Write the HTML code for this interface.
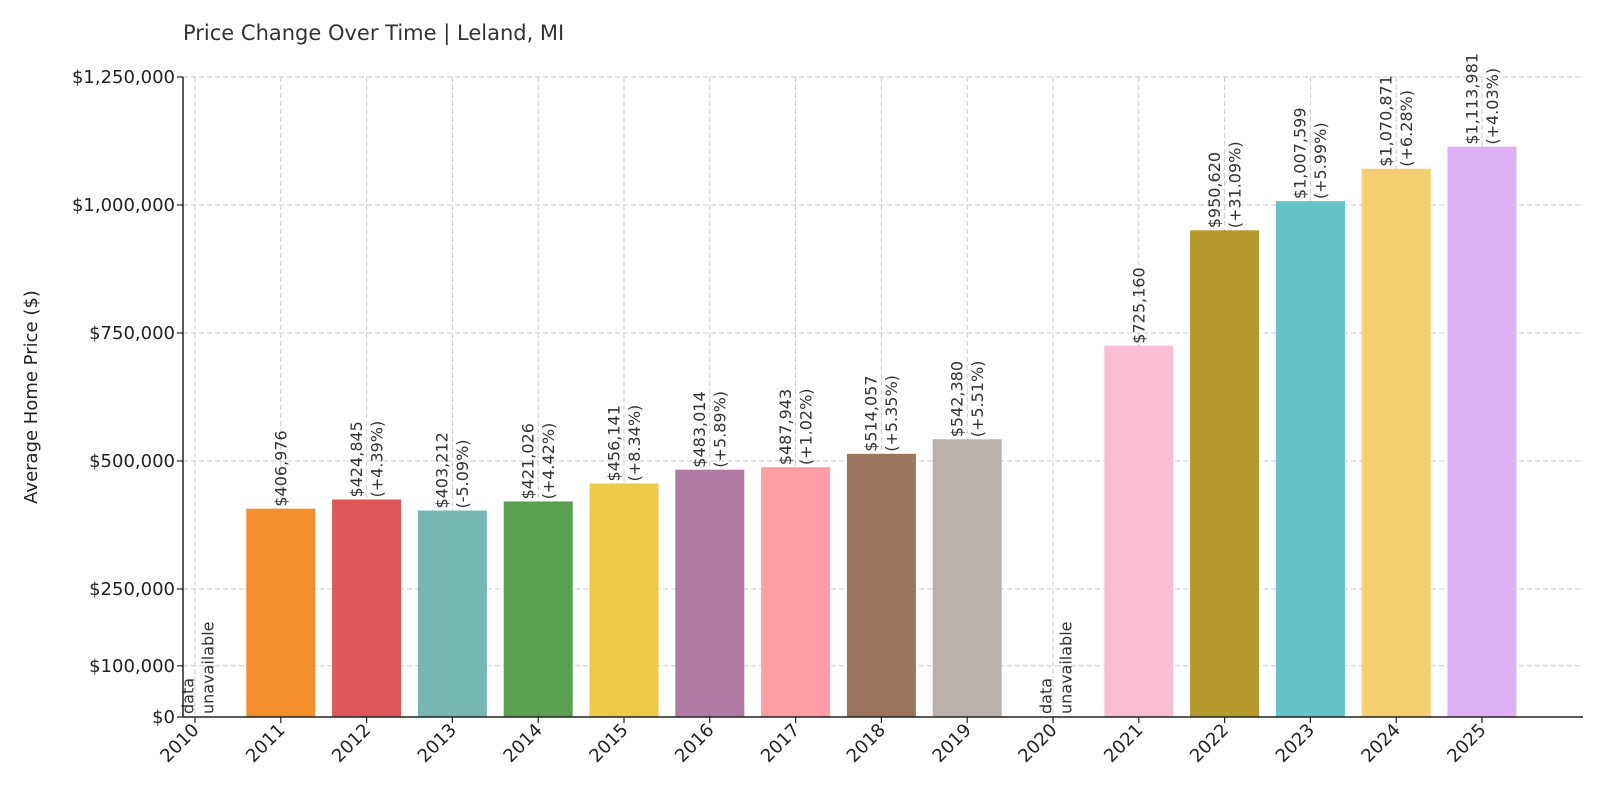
<!DOCTYPE html>
<html><head><meta charset="utf-8"><style>
body{margin:0;background:#fff;}
svg{display:block;font-family:"DejaVu Sans","Liberation Sans",sans-serif;}
</style></head><body>
<svg id="chart" width="1600" height="800">
<text x="183" y="40" font-size="21" fill="#333">Price Change Over Time | Leland, MI</text>
<text transform="translate(37,397) rotate(-90)" text-anchor="middle" font-size="18" fill="#222">Average Home Price ($)</text>
<g id="grid"></g><g id="bars"></g><g id="labels"></g><g id="axes"></g>
</svg>
<script>
const years = ["2010","2011","2012","2013","2014","2015","2016","2017","2018","2019","2020","2021","2022","2023","2024","2025"];
const prices = [null,406976,424845,403212,421026,456141,483014,487943,514057,542380,null,725160,950620,1007599,1070871,1113981];
const changes = [null,null,"+4.39%","-5.09%","+4.42%","+8.34%","+5.89%","+1.02%","+5.35%","+5.51%",null,null,"+31.09%","+5.99%","+6.28%","+4.03%"];
const colors = [null,"#f28e2b","#e15759","#76b7b2","#59a14f","#edc948","#b07aa1","#ff9da7","#9c755f","#bab0ac",null,"#f9bed4","#b5992c","#64c3c9","#f5cf6e","#dcb0f2"];
const yTicks = [0,100000,250000,500000,750000,1000000,1250000];
const yTickLabels = ["$0","$100,000","$250,000","$500,000","$750,000","$1,000,000","$1,250,000"];

const NS="http://www.w3.org/2000/svg";
const L=183,R=1583,Y0=717,YT=77,YMAX=1250000;
const x0=195,step=85.8,bw=69;
function xs(i){return x0+i*step;}
function ys(v){return Y0-(v/YMAX)*(Y0-YT);}
function mk(tag,attrs,parent){const e=document.createElementNS(NS,tag);for(const k in attrs)e.setAttribute(k,attrs[k]);parent.appendChild(e);return e;}
const grid=document.getElementById('grid'),bars=document.getElementById('bars'),labels=document.getElementById('labels'),axes=document.getElementById('axes');

yTicks.forEach((v,i)=>{
  const y=ys(v);
  if(v>0){const g=mk('line',{x1:L,x2:R,y1:y,y2:y,stroke:'#ccc','stroke-dasharray':'5,3','stroke-width':1},grid);
  
  }
  const t=mk('line',{x1:L-6,x2:L,y1:y,y2:y,stroke:'#222','stroke-width':1.2},axes);
  
  
  const tx=mk('text',{x:L-8,y:y+6,'text-anchor':'end','font-size':18,fill:'#222'},axes);
  tx.textContent=yTickLabels[i];
  
  
});
years.forEach((yr,i)=>{
  const x=xs(i);
  const g=mk('line',{x1:x,x2:x,y1:YT,y2:Y0,stroke:'#ccc','stroke-dasharray':'5,3','stroke-width':1},grid);
  
  
  if(prices[i]!=null){
    const y=ys(prices[i]);
    const b=mk('rect',{x:x-bw/2,y:y,width:bw,height:Y0-y,fill:colors[i]},bars);
    
    
    const val='$'+prices[i].toLocaleString('en-US');
    const lines=changes[i]?[val,'('+changes[i]+')']:[val];
    const n=lines.length;
    lines.forEach((s,j)=>{
      const off=(j-(n-1)/2)*20.5+5.5;
      const t=mk('text',{transform:`translate(${x+off},${y-2}) rotate(-90)`,'font-size':16,fill:'#333'},labels);
      t.textContent=s;
      
      
    });
  } else {
    ['data','unavailable'].forEach((s,j)=>{
      const t=mk('text',{transform:`translate(${x-7+j*20+5.5},${Y0-3}) rotate(-90)`,'font-size':16,fill:'#333'},labels);
      t.textContent=s;
      
      
    });
  }
  const tk=mk('line',{x1:x,x2:x,y1:Y0,y2:Y0+6,stroke:'#222','stroke-width':1.2},axes);
  
  
  const tl=mk('text',{transform:`translate(${x+5},${Y0+14}) rotate(-45)`,'text-anchor':'end','font-size':18,fill:'#222'},axes);
  tl.textContent=yr;
  
  
});
const ax1=mk('line',{x1:L,x2:L,y1:YT,y2:Y0,stroke:'#222','stroke-width':1.5},axes);


const ax2=mk('line',{x1:L,x2:R,y1:Y0,y2:Y0,stroke:'#222','stroke-width':1.5},axes);


</script>
</body></html>
